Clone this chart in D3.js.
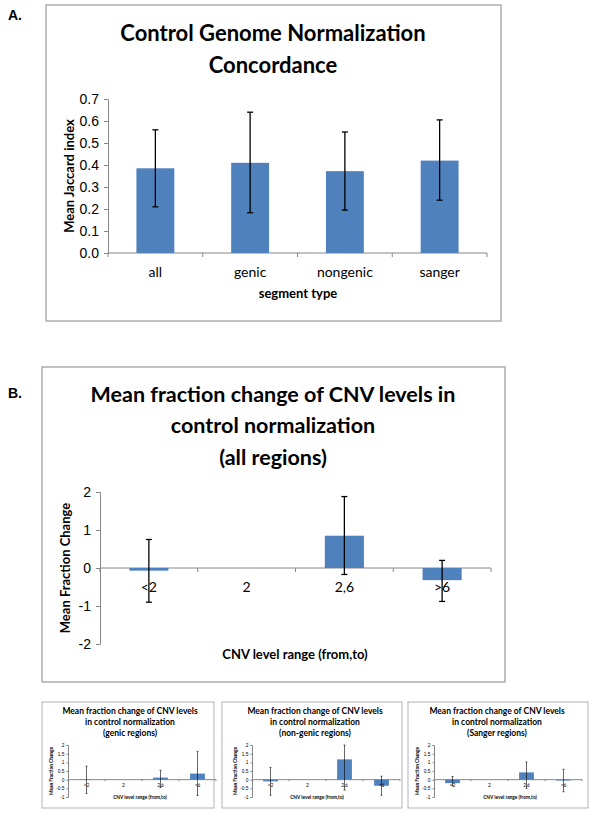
<!DOCTYPE html>
<html>
<head>
<meta charset="utf-8">
<script src="https://cdn.jsdelivr.net/npm/d3@7"></script>
<style>
  body { margin: 0; background: #fff; }
  svg { display: block; font-family: Lato, "Open Sans", sans-serif; }
</style>
</head>
<body>
<div id="chart"></div>
<script>
// Panel A: Jaccard concordance
const segmentTypes = ["all", "genic", "nongenic", "sanger"];
const jaccardMean = [0.385, 0.41, 0.372, 0.42];
const jaccardLow = [0.21, 0.183, 0.195, 0.24];
const jaccardHigh = [0.56, 0.64, 0.55, 0.605];
const jaccardTicks = [0, 0.1, 0.2, 0.3, 0.4, 0.5, 0.6, 0.7];

// Panel B and small panels: CNV level change
const cnvRanges = ["<2", "2", "2,6", ">6"];
const allMean = [-0.07, 0, 0.85, -0.32];
const allLow = [-0.9, null, -0.17, -0.88];
const allHigh = [0.75, null, 1.88, 0.2];
const allTicks = [-2, -1, 0, 1, 2];

const genicMean = [-0.02, 0, 0.12, 0.35];
const genicLow = [-0.8, null, -0.46, -0.92];
const genicHigh = [0.78, null, 0.54, 1.63];

const nongenicMean = [-0.1, 0, 1.17, -0.35];
const nongenicLow = [-0.9, null, -0.6, -0.9];
const nongenicHigh = [0.7, null, 2.0, 0.2];

const sangerMean = [-0.2, 0, 0.42, -0.05];
const sangerLow = [-0.35, null, -0.5, -0.7];
const sangerHigh = [0.18, null, 1.02, 0.6];
const smallTicks = [-1, -0.5, 0, 0.5, 1, 1.5, 2];

const BAR = "#4F81BD";
const AXIS = "#868686";
const plain = d => String(d); // hyphen minus like the original

const svg = d3.select("#chart").append("svg")
    .attr("width", 600)
    .attr("height", 818);

function drawPanel(cfg) {
    const g = svg.append("g");

    // frame
    g.append("rect")
        .attr("x", cfg.box[0]).attr("y", cfg.box[1])
        .attr("width", cfg.box[2] - cfg.box[0])
        .attr("height", cfg.box[3] - cfg.box[1])
        .attr("fill", "#fff")
        .attr("stroke", "#a0a0a0")
        .attr("stroke-width", cfg.frameWidth || 1.3);

    // title
    cfg.title.forEach((t, i) => {
        g.append("text")
            .attr("x", cfg.titleX)
            .attr("y", cfg.titleY + i * cfg.titleStep)
            .attr("text-anchor", "middle")
            .attr("dominant-baseline", "middle")
            .style("font-size", cfg.titleSize + "px")
            .style("font-weight", "bold")
            .text(t);
    });

    const x = d3.scaleBand()
        .domain(cfg.categories)
        .range([cfg.plotX[0], cfg.plotX[1]])
        .paddingInner(cfg.padding)
        .paddingOuter(cfg.padding / 2);

    const y = d3.scaleLinear()
        .domain(cfg.domain)
        .range([cfg.plotY[1], cfg.plotY[0]]);

    const zeroY = y(cfg.baseline);

    // y axis
    const yAxis = g.append("g")
        .attr("transform", `translate(${cfg.plotX[0]},0)`)
        .call(d3.axisLeft(y).tickValues(cfg.ticks).tickFormat(cfg.tickFormat)
            .tickSize(cfg.tickLen).tickPadding(cfg.tickPad));
    yAxis.select(".domain").attr("stroke", AXIS);
    yAxis.selectAll(".tick line").attr("stroke", AXIS);
    yAxis.selectAll(".tick text")
        .style("font-size", cfg.tickSize + "px")
        .style("font-family", "inherit")
        .attr("fill", "#000");

    // x axis line at baseline with ticks between categories
    g.append("line")
        .attr("x1", cfg.plotX[0]).attr("x2", cfg.plotX[1])
        .attr("y1", zeroY).attr("y2", zeroY)
        .attr("stroke", AXIS);
    const step = x.step();
    const bounds = d3.range(cfg.categories.length + 1).map(i => cfg.plotX[0] + i * step);
    g.selectAll(".xtick").data(bounds).enter().append("line")
        .attr("x1", d => d).attr("x2", d => d)
        .attr("y1", zeroY).attr("y2", zeroY + cfg.tickLen)
        .attr("stroke", AXIS);

    // bars
    g.selectAll(".bar").data(cfg.values).enter().append("rect")
        .attr("x", (d, i) => x(cfg.categories[i]))
        .attr("width", x.bandwidth())
        .attr("y", d => Math.min(y(d), zeroY))
        .attr("height", d => Math.abs(y(d) - zeroY))
        .attr("fill", BAR);

    // category labels
    g.selectAll(".cat").data(cfg.categories).enter().append("text")
        .attr("x", d => x(d) + x.bandwidth() / 2)
        .attr("y", cfg.catY)
        .attr("text-anchor", "middle")
        .attr("dominant-baseline", "middle")
        .style("font-size", cfg.catSize + "px")
        .text(d => d);

    // error bars
    const errs = cfg.values.map((v, i) => ({ i, lo: cfg.low[i], hi: cfg.high[i] }))
        .filter(d => d.lo !== null);
    const eg = g.selectAll(".err").data(errs).enter().append("g");
    const cx = d => x(cfg.categories[d.i]) + x.bandwidth() / 2;
    eg.append("line")
        .attr("x1", cx).attr("x2", cx)
        .attr("y1", d => y(d.lo)).attr("y2", d => y(d.hi))
        .attr("stroke", "#000").attr("stroke-width", cfg.errWidth);
    ["lo", "hi"].forEach(k => {
        eg.append("line")
            .attr("x1", d => cx(d) - cfg.cap).attr("x2", d => cx(d) + cfg.cap)
            .attr("y1", d => y(d[k])).attr("y2", d => y(d[k]))
            .attr("stroke", "#000").attr("stroke-width", cfg.errWidth);
    });

    // axis titles
    g.append("text")
        .attr("transform", `translate(${cfg.yLabelX},${cfg.yLabelY}) rotate(-90)`)
        .attr("text-anchor", "middle")
        .attr("dominant-baseline", "middle")
        .style("font-size", cfg.labelSize + "px")
        .style("font-weight", "bold")
        .text(cfg.yLabel);
    g.append("text")
        .attr("x", cfg.xLabelX).attr("y", cfg.xLabelY)
        .attr("text-anchor", "middle")
        .attr("dominant-baseline", "middle")
        .style("font-size", cfg.labelSize + "px")
        .style("font-weight", "bold")
        .text(cfg.xLabel);
}

// panel letters
svg.append("text").attr("x", 8).attr("y", 20)
    .style("font-size", "14px").style("font-weight", "bold")
    .style("font-family", "'Liberation Sans', Arial, sans-serif").text("A.");
svg.append("text").attr("x", 8).attr("y", 398)
    .style("font-size", "14px").style("font-weight", "bold")
    .style("font-family", "'Liberation Sans', Arial, sans-serif").text("B.");

drawPanel({
    box: [46, 5, 501, 321],
    title: ["Control Genome Normalization", "Concordance"],
    titleX: 273, titleY: 35, titleStep: 32, titleSize: 22,
    categories: segmentTypes, values: jaccardMean, low: jaccardLow, high: jaccardHigh,
    domain: [0, 0.7], baseline: 0, ticks: jaccardTicks, tickFormat: d3.format(".1f"),
    plotX: [108, 487], plotY: [99, 253], padding: 0.6,
    tickLen: 4, tickPad: 5, tickSize: 14, catY: 273, catSize: 14,
    errWidth: 1.3, cap: 3,
    yLabel: "Mean Jaccard index", yLabelX: 71, yLabelY: 176,
    xLabel: "segment type", xLabelX: 298, xLabelY: 295, labelSize: 13
});

drawPanel({
    box: [42, 367, 505, 682],
    title: ["Mean fraction change of CNV levels in", "control normalization", "(all regions)"],
    titleX: 273, titleY: 396, titleStep: 31.5, titleSize: 21.5,
    categories: cnvRanges, values: allMean, low: allLow, high: allHigh,
    domain: [-2, 2], baseline: 0, ticks: allTicks, tickFormat: plain,
    plotX: [100, 491], plotY: [492, 644], padding: 0.6,
    tickLen: 4, tickPad: 5, tickSize: 14, catY: 588, catSize: 14,
    errWidth: 1.3, cap: 3,
    yLabel: "Mean Fraction Change", yLabelX: 67, yLabelY: 568,
    xLabel: "CNV level range (from,to)", xLabelX: 295, xLabelY: 656, labelSize: 13
});

const smallPanels = [
    { box: [42, 702, 214, 808], sub: "(genic regions)", values: genicMean, low: genicLow, high: genicHigh,
      plotX: [68, 216], titleX: 130, xLabelX: 140, yLabelX: 52 },
    { box: [222, 702, 402, 808], sub: "(non-genic regions)", values: nongenicMean, low: nongenicLow, high: nongenicHigh,
      plotX: [252, 400], titleX: 315, xLabelX: 317, yLabelX: 236 },
    { box: [408, 702, 588, 808], sub: "(Sanger regions)", values: sangerMean, low: sangerLow, high: sangerHigh,
      plotX: [434, 582], titleX: 497, xLabelX: 510, yLabelX: 418 }
];

smallPanels.forEach(p => {
    drawPanel({
        box: p.box, frameWidth: 0.8,
        title: ["Mean fraction change of CNV levels", "in control normalization", p.sub],
        titleX: p.titleX, titleY: 712, titleStep: 11, titleSize: 8.5,
        categories: cnvRanges, values: p.values, low: p.low, high: p.high,
        domain: [-1, 2], baseline: 0, ticks: smallTicks, tickFormat: plain,
        plotX: p.plotX, plotY: [745, 797], padding: 0.6,
        tickLen: 1.5, tickPad: 2, tickSize: 4.8, catY: 786, catSize: 4.8,
        errWidth: 0.6, cap: 1,
        yLabel: "Mean Fraction Change", yLabelX: p.yLabelX, yLabelY: 771,
        xLabel: "CNV level range (from,to)", xLabelX: p.xLabelX, xLabelY: 798, labelSize: 4.8
    });
});
</script>
</body>
</html>
